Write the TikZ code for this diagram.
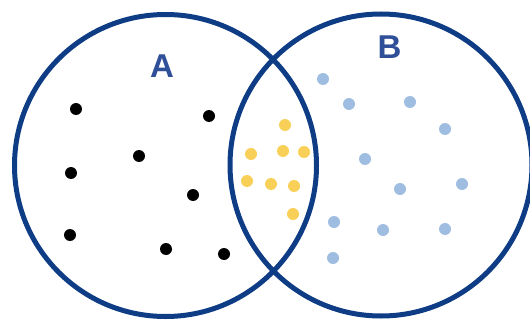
\documentclass[tikz,border=0pt]{standalone}
\usepackage{fontspec}
\setmainfont{Liberation Sans}
\usetikzlibrary{positioning}

\definecolor{setline}{HTML}{0F3D85}
\definecolor{setlabel}{HTML}{2F4F98}
\definecolor{onlyA}{HTML}{000000}
\definecolor{both}{HTML}{F8CF57}
\definecolor{onlyB}{HTML}{9EBDE0}

\begin{document}
\begin{tikzpicture}[
  x=1pt, y=-1pt,
  setcircle/.style={draw=setline, line width=5pt, circle, minimum size=302pt, inner sep=0pt},
  setname/.style={font=\bfseries\fontsize{33}{33}\selectfont, text=setlabel},
  dotA/.style={circle, fill=onlyA, inner sep=0pt, minimum size=12pt},
  dotAB/.style={circle, fill=both, inner sep=0pt, minimum size=12pt},
  dotB/.style={circle, fill=onlyB, inner sep=0pt, minimum size=12pt}
]
\useasboundingbox (0,0) rectangle (530,321);

% ---------- SETS ----------
\node[setcircle] (setA) at (165.5,165.5) {};
\node[setcircle] (setB) at (381,165) {};
\node[setname] (labA) at (162,66) {A};
\node[setname] (labB) at (389.5,47.5) {B};

% ---------- ELEMENTS ----------
\foreach \px/\py [count=\i] in {76/109, 209/116, 139/156, 71/173, 193/195, 70/235, 166/249, 224/254}
  \node[dotA] (a\i) at (\px,\py) {};
\foreach \px/\py [count=\i] in {285/125, 251/154, 283/151, 304/152, 247/181, 271/184, 294/186, 293/214}
  \node[dotAB] (ab\i) at (\px,\py) {};
\foreach \px/\py [count=\i] in {323/79, 349/104, 410/102, 445/129, 365/159, 400/189, 462/184, 334/222, 383/230, 445/229, 333/258}
  \node[dotB] (b\i) at (\px,\py) {};

\end{tikzpicture}
\end{document}
